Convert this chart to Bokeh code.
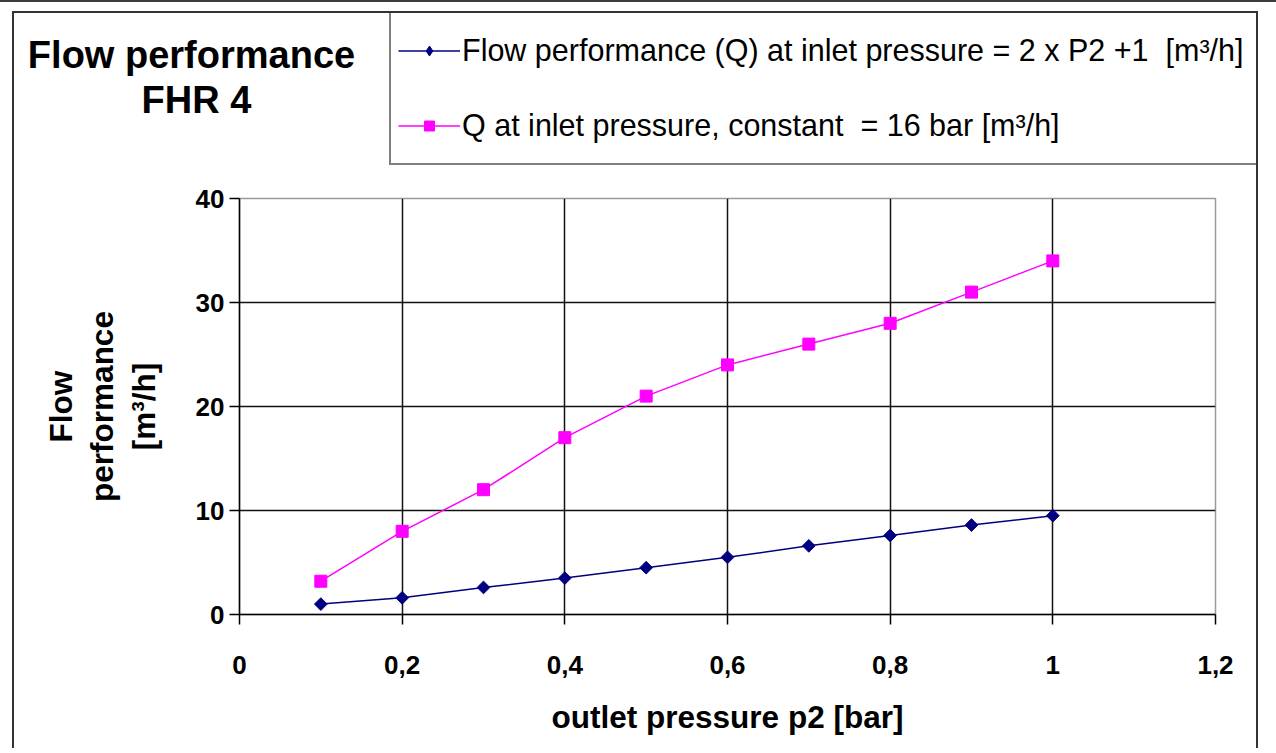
import math
from bokeh.plotting import figure
from bokeh.layouts import column
from bokeh.models import (Legend, LegendItem, Label, FixedTicker,
                          CustomJSTickFormatter, Range1d)
from bokeh.embed import file_html
from bokeh.resources import INLINE

# ---- data ----
p2 = [0.1, 0.2, 0.3, 0.4, 0.5, 0.6, 0.7, 0.8, 0.9, 1.0]
q_var = [1.0, 1.6, 2.6, 3.5, 4.5, 5.5, 6.6, 7.6, 8.6, 9.5]
q_16 = [3.2, 8.0, 12.0, 17.0, 21.0, 24.0, 26.0, 28.0, 31.0, 34.0]
x_ticks = [0, 0.2, 0.4, 0.6, 0.8, 1.0, 1.2]
x_tick_labels = ["0", "0,2", "0,4", "0,6", "0,8", "1", "1,2"]
y_ticks = [0, 10, 20, 30, 40]
y_tick_labels = ["0", "10", "20", "30", "40"]
series_names = ["Flow performance (Q) at inlet pressure = 2 x P2 +1  [m\u00b3/h]",
                "Q at inlet pressure, constant  = 16 bar [m\u00b3/h]"]
title_lines = ["Flow performance", "FHR 4"]
x_title = "outlet pressure p2 [bar]"
y_title = "Flow\nperformance\n[m\u00b3/h]"

FONT = "Liberation Sans"
BLUE = "#000080"
PINK = "#FF00FF"

# ---- page geometry (pixels of the page) ----
OX, OY = 14, 13          # top-left of the chart area inside the outer box
W = 1242                 # chart area width
H_TOP = 160              # header strip (title + legend)
H_MAIN = 575
FL, FR, FT, FB = 239, 1215, 198, 614   # plot frame
BASELINE_FIX = 13        # renderer places "alphabetic" baselines this much low

# ---- header strip: title and legend ----
t = figure(width=W, height=H_TOP, output_backend="svg", toolbar_location=None,
           x_range=Range1d(0, W), y_range=Range1d(H_TOP, 0),
           x_axis_location=None, y_axis_location=None,
           min_border=0, min_border_left=0, min_border_right=0,
           min_border_top=0, min_border_bottom=0)
t.grid.visible = False
t.outline_line_color = None
t.background_fill_color = "white"
t.border_fill_color = "white"

t.add_layout(Label(x=191 - OX, y=67 - OY - BASELINE_FIX, text=title_lines[0],
                   text_align="center", text_baseline="alphabetic", text_font=FONT,
                   text_font_style="bold", text_font_size="38px", text_color="black"))
t.add_layout(Label(x=196 - OX, y=112 - OY - BASELINE_FIX, text=title_lines[1],
                   text_align="center", text_baseline="alphabetic", text_font=FONT,
                   text_font_style="bold", text_font_size="38px", text_color="black"))

# legend proxies: styled like the series below, their single point lies off the strip
proxy = [-1000.0]
s1l = t.line(x=proxy, y=proxy, line_color=BLUE, line_width=1.5)
s1m = t.scatter(x=proxy, y=proxy, marker="diamond", size=14,
                fill_color=BLUE, line_color=BLUE)
s2l = t.line(x=proxy, y=proxy, line_color=PINK, line_width=1.5)
s2m = t.scatter(x=proxy, y=proxy, marker="square", size=11, fill_color=PINK, line_color=PINK)

LEG_H = 152
legend = Legend(items=[LegendItem(label=series_names[0], renderers=[s1l, s1m]),
                       LegendItem(label=series_names[1], renderers=[s2l, s2m])],
                location=(389 - OX, H_TOP - (13 - OY) - LEG_H),
                orientation="vertical",
                padding=7, spacing=14, margin=0,
                glyph_width=62, glyph_height=25, label_height=61, label_width=789,
                label_standoff=2,
                label_text_font=FONT, label_text_font_size="30.5px",
                label_text_color="black",
                border_line_color="black", border_line_width=2,
                background_fill_color="white", background_fill_alpha=1)
t.add_layout(legend)

# ---- main chart ----
top_main = OY + H_TOP
p = figure(width=W, height=H_MAIN, output_backend="svg", toolbar_location=None,
           x_range=Range1d(0, 1.2), y_range=Range1d(0, 40),
           min_border_left=FL - OX, min_border_right=W - (FR - OX),
           min_border_top=FT - top_main, min_border_bottom=H_MAIN - (FB - top_main))
p.background_fill_color = "white"
p.border_fill_color = "white"
p.outline_line_color = "#9a9a9a"
p.outline_line_width = 1.5

# keep the header strip's frame independent of the chart's frame
for fig in (t, p):
    if "frame_align" in fig.properties():
        fig.frame_align = False

for ax in (p.xaxis[0], p.yaxis[0]):
    ax.axis_line_color = "black"
    ax.axis_line_width = 1.5
    ax.major_tick_line_color = "black"
    ax.major_tick_line_width = 1.5
    ax.major_tick_out = 10
    ax.major_tick_in = 0
    ax.minor_tick_line_color = None
    ax.major_label_text_font = FONT
    ax.major_label_text_font_style = "bold"
    ax.major_label_text_font_size = "26px"
    ax.major_label_text_color = "black"
    ax.axis_label_text_font = FONT
    ax.axis_label_text_font_style = "bold"
    ax.axis_label_text_font_size = "31.5px"
    ax.axis_label_text_color = "black"

fmt_code = """
let best = 0; let d = 1e9;
for (let i = 0; i < tvals.length; i++) {
  const dd = Math.abs(tvals[i] - tick);
  if (dd < d) { d = dd; best = i; }
}
return tlabels[best];
"""
p.xaxis[0].ticker = FixedTicker(ticks=x_ticks)
p.xaxis[0].formatter = CustomJSTickFormatter(args=dict(tvals=x_ticks, tlabels=x_tick_labels), code=fmt_code)
p.yaxis[0].ticker = FixedTicker(ticks=y_ticks)
p.yaxis[0].formatter = CustomJSTickFormatter(args=dict(tvals=y_ticks, tlabels=y_tick_labels), code=fmt_code)
p.xaxis[0].major_label_standoff = 31
p.yaxis[0].major_label_standoff = 5
p.xaxis[0].axis_label = x_title
p.xaxis[0].axis_label_standoff = 22
p.yaxis[0].axis_label = y_title
p.yaxis[0].axis_label_standoff = 31
p.yaxis[0].axis_label_text_line_height = 1.15

p.xgrid[0].grid_line_color = "#111111"
p.xgrid[0].grid_line_width = 1.5
p.ygrid[0].grid_line_color = "#111111"
p.ygrid[0].grid_line_width = 1.5

p.line(p2, q_var, line_color=BLUE, line_width=1.5)
p.scatter(p2, q_var, marker="square", angle=math.pi / 4, size=9,
          fill_color=BLUE, line_color=BLUE)
p.line(p2, q_16, line_color=PINK, line_width=1.5)
p.scatter(p2, q_16, marker="square", size=12, fill_color=PINK, line_color=PINK)

inner = column(t, p, spacing=0, margin=(OY - 2 - 11, 0, 0, OX - 2),
               styles={"border-left": "2px solid #333333",
                       "border-right": "2px solid #333333",
                       "border-top": "2px solid #333333"})
root = column(inner, spacing=0, sizing_mode="stretch_width",
              styles={"border-top": "2px solid #3c3c3c", "padding-top": "9px"})

open("out.html", "w").write(file_html(root, INLINE))
